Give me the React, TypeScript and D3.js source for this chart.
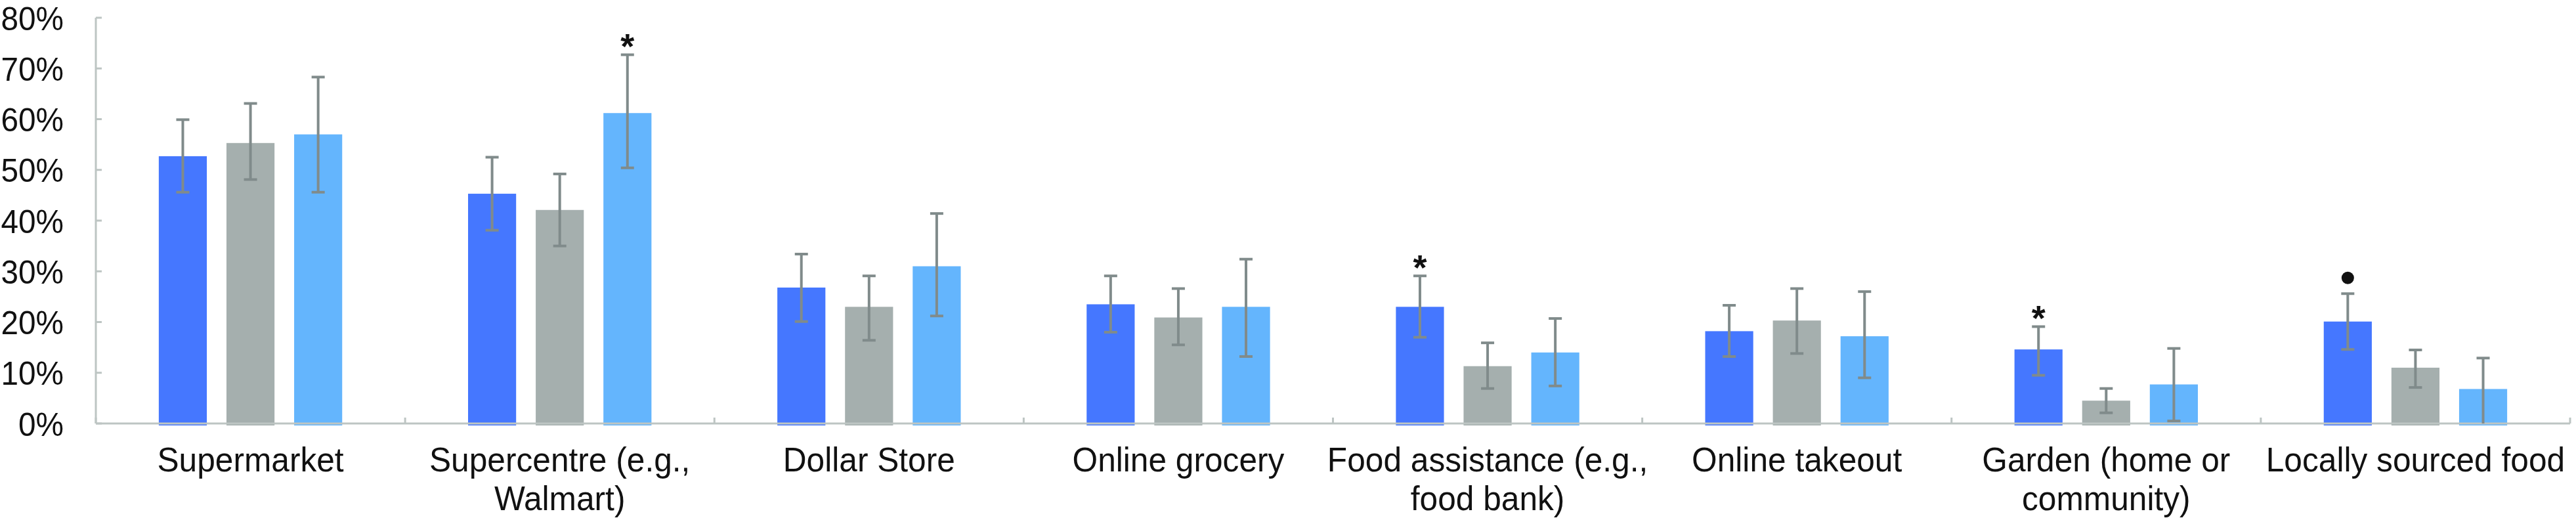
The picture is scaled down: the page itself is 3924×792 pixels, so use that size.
import React from "react";
import * as d3 from "d3";

const categories = [
  "Supermarket",
  "Supercentre (e.g.,|Walmart)",
  "Dollar Store",
  "Online grocery",
  "Food assistance (e.g.,|food bank)",
  "Online takeout",
  "Garden (home or|community)",
  "Locally sourced food",
];
const seriesNames = ["A", "B", "C"];
const seriesA = [52.7, 45.3, 26.8, 23.5, 23.0, 18.2, 14.6, 20.1];
const seriesB = [55.3, 42.1, 23.0, 20.9, 11.3, 20.3, 4.5, 11.0];
const seriesC = [57.0, 61.2, 31.0, 23.0, 14.0, 17.2, 7.7, 6.8];
const lowA = [45.6, 38.1, 20.1, 18.0, 17.0, 13.2, 9.5, 14.6];
const highA = [59.9, 52.5, 33.4, 29.1, 29.1, 23.3, 19.1, 25.6];
const lowB = [48.1, 35.0, 16.4, 15.5, 6.9, 13.8, 2.1, 7.1];
const highB = [63.1, 49.2, 29.1, 26.6, 15.9, 26.6, 6.9, 14.5];
const lowC = [45.6, 50.4, 21.2, 13.2, 7.4, 9.0, 0.5, 0];
const highC = [68.3, 72.7, 41.4, 32.4, 20.7, 26.0, 14.8, 12.9];
// significance markers: [categoryIndex, seriesIndex, symbol]
const markers: [number, number, string][] = [
  [1, 2, "*"],
  [4, 0, "*"],
  [6, 0, "*"],
  [7, 0, "dot"],
];
const yTicks = [0, 10, 20, 30, 40, 50, 60, 70, 80];

const colors = ["#4577FF", "#A5AFAE", "#64B5FD"];
const errColor = "#808B8B";
const axisColor = "#BDC5C3";
const FONT = "'Liberation Sans', Arial, Helvetica, sans-serif";

export default function App() {
  const W = 3924;
  const H = 792;
  const values = [seriesA, seriesB, seriesC];
  const lows = [lowA, lowB, lowC];
  const highs = [highA, highB, highC];

  const x0 = d3.scaleBand<string>().domain(categories).range([146, 3915]).paddingInner(0).paddingOuter(0);
  const x1 = d3
    .scaleBand<string>()
    .domain(seriesNames)
    .range([0, x0.bandwidth()])
    .paddingInner(0.29)
    .paddingOuter(0.93);
  const y = d3.scaleLinear().domain([0, 80]).range([645, 27]);
  const bw = x1.bandwidth();
  const fs = 52;
  const fsY = 50;
  const sx = 0.955;

  const boundaries = categories.map((c) => x0(c)!).concat([x0.range()[1]]);

  return (
    <svg
      width={W}
      height={H}
      style={{ position: "absolute", left: 0, top: 0, display: "block", background: "#fff" }}
      fontFamily={FONT}
    >
      <rect x={0} y={0} width={W} height={H} fill="#fff" />
      {/* bars */}
      {categories.map((c, ci) =>
        seriesNames.map((s, si) => {
          const v = values[si][ci];
          return (
            <rect
              key={c + s}
              x={x0(c)! + x1(s)!}
              y={y(v)}
              width={bw}
              height={y(0) - y(v) + 3}
              fill={colors[si]}
            />
          );
        })
      )}
      {/* axes */}
      <line x1={x0.range()[0]} x2={x0.range()[1]} y1={y(0)} y2={y(0)} stroke={axisColor} strokeWidth={3} />
      <line x1={x0.range()[0]} x2={x0.range()[0]} y1={y(80)} y2={y(0)} stroke={axisColor} strokeWidth={3} />
      {yTicks.map((t) => (
        <g key={t}>
          <line x1={x0.range()[0]} x2={x0.range()[0] + 9} y1={y(t)} y2={y(t)} stroke={axisColor} strokeWidth={3} />
          <text
            transform={`translate(97,${y(t) + fsY * 0.37}) scale(${sx},1)`}
            textAnchor="end"
            fontSize={fsY}
            fill="#111"
          >
            {t + "%"}
          </text>
        </g>
      ))}
      {boundaries.map((b, i) => (
        <line key={i} x1={b} x2={b} y1={y(0)} y2={y(0) - 9} stroke={axisColor} strokeWidth={3} />
      ))}
      {/* error bars */}
      {categories.map((c, ci) =>
        seriesNames.map((s, si) => {
          const cx = x0(c)! + x1(s)! + bw / 2;
          const lo = y(lows[si][ci]);
          const hi = y(highs[si][ci]);
          return (
            <g key={"e" + c + s} stroke={errColor} strokeWidth={4}>
              <line x1={cx} x2={cx} y1={lo} y2={hi} />
              <line x1={cx - 10} x2={cx + 10} y1={hi} y2={hi} />
              {lows[si][ci] > 0 && <line x1={cx - 10} x2={cx + 10} y1={lo} y2={lo} />}
            </g>
          );
        })
      )}
      {/* markers */}
      {markers.map(([ci, si, m], i) => {
        const cx = x0(categories[ci])! + x1(seriesNames[si])! + bw / 2;
        const hi = y(highs[si][ci]);
        return m === "dot" ? (
          <circle key={i} cx={cx} cy={hi - 24} r={9.5} fill="#111" />
        ) : (
          <text key={i} x={cx} y={hi + 6} textAnchor="middle" fontSize={54} fontWeight="bold" fill="#111">
            *
          </text>
        );
      })}
      {/* category labels */}
      {categories.map((c) => {
        const cx = x0(c)! + x0.bandwidth() / 2;
        const lines = c.split("|");
        return (
          <g key={"l" + c}>
            {lines.map((ln, li) => (
              <text
                key={li}
                transform={`translate(${cx},${718 + li * 59}) scale(${sx},1)`}
                textAnchor="middle"
                fontSize={fs}
                fill="#111"
              >
                {ln}
              </text>
            ))}
          </g>
        );
      })}
    </svg>
  );
}
